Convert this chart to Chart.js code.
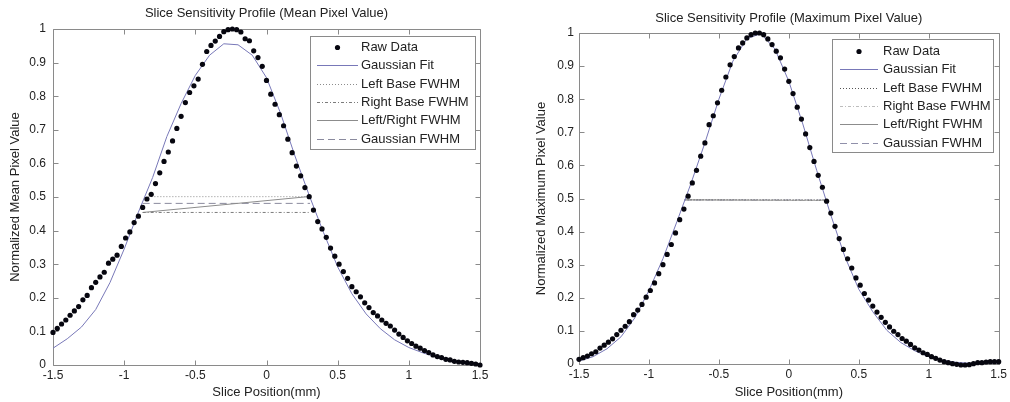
<!DOCTYPE html>
<html>
<head>
<meta charset="utf-8">
<script src="https://cdn.jsdelivr.net/npm/chart.js@4.4.1/dist/chart.umd.min.js"></script>
<style>
  html, body { margin: 0; padding: 0; background: #fff; }
  #wrap { position: relative; width: 1010px; height: 402px; }
  canvas { position: absolute; top: 0; }
</style>
</head>
<body>
<div id="wrap">
  <canvas id="meanChart" width="505" height="402" style="left:0px"></canvas>
  <canvas id="maxChart" width="505" height="402" style="left:505px"></canvas>
</div>
<script>
// slice positions of the raw samples (mm)
const slicePos = [-1.50,-1.47,-1.44,-1.41,-1.38,-1.35,-1.32,-1.29,-1.26,-1.23,-1.20,-1.17,-1.14,-1.11,-1.08,-1.05,-1.02,-0.99,-0.96,-0.93,
  -0.90,-0.87,-0.84,-0.81,-0.78,-0.75,-0.72,-0.69,-0.66,-0.63,-0.60,-0.57,-0.54,-0.51,-0.48,-0.45,-0.42,-0.39,-0.36,-0.33,
  -0.30,-0.27,-0.24,-0.21,-0.18,-0.15,-0.12,-0.09,-0.06,-0.03,0.00,0.03,0.06,0.09,0.12,0.15,0.18,0.21,0.24,0.27,
  0.30,0.33,0.36,0.39,0.42,0.45,0.48,0.51,0.54,0.57,0.60,0.63,0.66,0.69,0.72,0.75,0.78,0.81,0.84,0.87,
  0.90,0.93,0.96,0.99,1.02,1.05,1.08,1.11,1.14,1.17,1.20,1.23,1.26,1.29,1.32,1.35,1.38,1.41,1.44,1.47,1.50];

// mean pixel value profile
const meanRaw = [0.097,0.109,0.122,0.134,0.148,0.161,0.174,0.194,0.207,0.230,0.246,0.262,0.276,0.303,0.315,0.327,0.353,0.378,0.396,0.424,
  0.443,0.469,0.494,0.508,0.540,0.572,0.606,0.634,0.667,0.704,0.740,0.781,0.811,0.831,0.851,0.895,0.933,0.951,0.964,0.978,
  0.992,0.998,1.000,0.998,0.991,0.971,0.965,0.935,0.915,0.889,0.847,0.806,0.776,0.745,0.712,0.672,0.632,0.592,0.563,0.528,
  0.501,0.461,0.427,0.405,0.380,0.348,0.324,0.300,0.278,0.258,0.233,0.218,0.203,0.185,0.171,0.156,0.146,0.134,0.124,0.116,
  0.104,0.092,0.082,0.072,0.064,0.056,0.050,0.043,0.037,0.030,0.025,0.022,0.017,0.015,0.011,0.009,0.008,0.007,0.005,0.003,0.000];

// maximum pixel value profile
const maxRaw = [0.014,0.019,0.024,0.031,0.037,0.048,0.057,0.066,0.076,0.089,0.102,0.114,0.128,0.149,0.163,0.180,0.202,0.222,0.245,0.273,
  0.300,0.331,0.361,0.396,0.436,0.468,0.507,0.547,0.585,0.628,0.668,0.723,0.750,0.789,0.827,0.867,0.904,0.929,0.955,0.970,
  0.985,0.995,1.000,1.000,0.995,0.982,0.965,0.945,0.925,0.891,0.854,0.817,0.776,0.740,0.695,0.654,0.612,0.570,0.534,0.492,
  0.456,0.416,0.379,0.346,0.318,0.290,0.260,0.238,0.213,0.193,0.175,0.157,0.141,0.126,0.112,0.099,0.089,0.077,0.069,0.059,
  0.049,0.042,0.034,0.029,0.022,0.017,0.012,0.007,0.004,0.001,-0.001,-0.003,-0.003,-0.002,0.001,0.004,0.004,0.006,0.007,0.007,0.007];

// gaussian fit curves, read every 0.1 mm
const fitPos = [-1.5,-1.4,-1.3,-1.2,-1.1,-1.0,-0.9,-0.8,-0.7,-0.6,-0.5,-0.4,-0.3,-0.2,-0.1,0.0,
  0.1,0.2,0.3,0.4,0.5,0.6,0.7,0.8,0.9,1.0,1.1,1.2,1.3,1.4,1.5];
const meanFit = [0.050,0.078,0.113,0.165,0.245,0.345,0.455,0.558,0.680,0.778,0.862,0.922,0.956,0.953,0.922,0.855,
  0.748,0.622,0.505,0.395,0.292,0.212,0.152,0.108,0.075,0.052,0.036,0.023,0.014,0.008,0.004];
const maxFit = [0.009,0.022,0.046,0.082,0.140,0.222,0.318,0.430,0.545,0.668,0.800,0.915,0.983,0.998,0.952,0.854,
  0.725,0.584,0.450,0.325,0.226,0.158,0.102,0.065,0.040,0.022,0.011,0.005,0.002,0.001,0.000];

// FWHM segments [x, y]
const meanLeftBase = [[-0.83, 0.501], [0.29, 0.501]];
const meanRightBase = [[-0.87, 0.454], [0.306, 0.454]];
const meanLeftRight = [[-0.87, 0.454], [0.29, 0.501]];
const meanGaussFwhm = [[-0.87, 0.481], [0.306, 0.481]];
const maxLeftBase = [[-0.745, 0.496], [0.265, 0.496]];
const maxRightBase = [[-0.745, 0.494], [0.265, 0.494]];
const maxLeftRight = [[-0.745, 0.496], [0.265, 0.494]];
const maxGaussFwhm = [[-0.745, 0.495], [0.265, 0.495]];

const xTicks = [-1.5, -1, -0.5, 0, 0.5, 1, 1.5];
const xTickLabels = ['-1.5', '-1', '-0.5', '0', '0.5', '1', '1.5'];
const yTicks = [0, 0.1, 0.2, 0.3, 0.4, 0.5, 0.6, 0.7, 0.8, 0.9, 1];
const yTickLabels = ['0', '0.1', '0.2', '0.3', '0.4', '0.5', '0.6', '0.7', '0.8', '0.9', '1'];

Chart.defaults.font.family = '"Liberation Sans", Arial, sans-serif';
Chart.defaults.font.size = 12;
Chart.defaults.color = '#222';

const AXIS = '#8a8a8a';

const toXY = (xs, ys) => xs.map((x, i) => ({ x, y: ys[i] }));
const segXY = seg => seg.map(p => ({ x: p[0], y: p[1] }));

// matlab-ish box, inward ticks, title and boxed legend
const matlabAxes = {
  id: 'matlabAxes',
  beforeDatasetsDraw(chart, args, opts) {
    const { ctx, chartArea: a, scales: { x, y } } = chart;
    const L = Math.round(a.left) + 0.5, R = Math.round(a.right) + 0.5;
    const T = Math.round(a.top) + 0.5, B = Math.round(a.bottom) + 0.5;
    ctx.save();
    ctx.strokeStyle = AXIS;
    ctx.lineWidth = 1;
    ctx.beginPath();
    xTicks.forEach(v => {
      const px = Math.round(x.getPixelForValue(v)) + 0.5;
      ctx.moveTo(px, B); ctx.lineTo(px, B - 5);
      ctx.moveTo(px, T); ctx.lineTo(px, T + 5);
    });
    yTicks.forEach(v => {
      const py = Math.round(y.getPixelForValue(v)) + 0.5;
      ctx.moveTo(L, py); ctx.lineTo(L + 5, py);
      ctx.moveTo(R, py); ctx.lineTo(R - 5, py);
    });
    ctx.rect(L, T, R - L, B - T);
    ctx.stroke();
    ctx.restore();
  },
  afterDraw(chart, args, opts) {
    const { ctx, chartArea: a } = chart;
    ctx.save();
    ctx.fillStyle = '#222';
    ctx.font = '13px "Liberation Sans", Arial, sans-serif';
    ctx.textAlign = 'center';
    ctx.textBaseline = 'middle';
    ctx.fillText(opts.title, (a.left + a.right) / 2, opts.titleY);

    const lg = opts.legend;
    ctx.fillStyle = '#fff';
    ctx.fillRect(lg.x, lg.y, lg.w, lg.h);
    ctx.strokeStyle = AXIS;
    ctx.lineWidth = 1;
    ctx.strokeRect(lg.x + 0.5, lg.y + 0.5, lg.w, lg.h);
    ctx.font = '13px "Liberation Sans", Arial, sans-serif';
    ctx.textAlign = 'left';
    chart.data.datasets.forEach((ds, i) => {
      const cy = Math.round(lg.y + lg.first + i * lg.row) + 0.5;
      if (ds.showLine === false) {
        ctx.fillStyle = ds.pointBackgroundColor;
        ctx.beginPath();
        ctx.arc((lg.s0 + lg.s1) / 2, cy, 2.6, 0, Math.PI * 2);
        ctx.fill();
      } else {
        ctx.strokeStyle = ds.borderColor;
        ctx.setLineDash(ds.borderDash || []);
        ctx.beginPath();
        ctx.moveTo(lg.s0, cy);
        ctx.lineTo(lg.s1, cy);
        ctx.stroke();
        ctx.setLineDash([]);
      }
      ctx.fillStyle = '#222';
      ctx.fillText(ds.label, lg.tx, cy);
    });
    ctx.restore();
  }
};

function lineSet(label, data, color, dash) {
  return { label, data, showLine: true, borderColor: color, borderWidth: 1, borderDash: dash,
    pointRadius: 0, tension: 0 };
}

function buildChart(id, cfg) {
  return new Chart(document.getElementById(id), {
    type: 'scatter',
    data: {
      datasets: [
        { label: 'Raw Data', data: toXY(slicePos, cfg.raw), showLine: false, pointRadius: 2.6,
          pointBackgroundColor: '#06060f', pointBorderWidth: 0, clip: false },
        lineSet('Gaussian Fit', toXY(fitPos, cfg.fit), '#7878b8', []),
        lineSet('Left Base FWHM', segXY(cfg.leftBase), cfg.colors[0], [1, 2]),
        lineSet('Right Base FWHM', segXY(cfg.rightBase), cfg.colors[1], [3, 2, 1, 2]),
        lineSet('Left/Right FWHM', segXY(cfg.leftRight), cfg.colors[2], []),
        lineSet('Gaussian FWHM', segXY(cfg.gaussFwhm), cfg.colors[3], [7, 4])
      ]
    },
    options: {
      responsive: false,
      animation: false,
      layout: { padding: cfg.pad },
      plugins: {
        legend: { display: false },
        tooltip: { enabled: false },
        matlabAxes: cfg.deco
      },
      scales: {
        x: {
          type: 'linear', min: -1.5, max: 1.5,
          afterBuildTicks: s => { s.ticks = xTicks.map(v => ({ value: v })); },
          afterFit: s => { s.height = cfg.xh; },
          grid: { display: false, drawTicks: false },
          border: { display: false },
          ticks: { padding: 3, maxRotation: 0, autoSkip: false, callback: (v, i) => xTickLabels[i] },
          title: { display: true, text: 'Slice Position(mm)', font: { size: 13 }, padding: { top: 0, bottom: 2 } }
        },
        y: {
          type: 'linear', min: 0, max: 1,
          afterBuildTicks: s => { s.ticks = yTicks.map(v => ({ value: v })); },
          afterFit: s => { s.width = cfg.yw; },
          grid: { display: false, drawTicks: false },
          border: { display: false },
          ticks: { padding: cfg.ytp, autoSkip: false, callback: (v, i) => yTickLabels[i] },
          title: { display: true, text: cfg.ytitle, font: { size: 13 }, padding: { top: cfg.ytitlePad, bottom: 0 } }
        }
      }
    },
    plugins: [matlabAxes]
  });
}

buildChart('meanChart', {
  raw: meanRaw, fit: meanFit,
  leftBase: meanLeftBase, rightBase: meanRightBase, leftRight: meanLeftRight, gaussFwhm: meanGaussFwhm,
  colors: ['#8c8c8c', '#7c7c7c', '#8c8c8c', '#8a8a9e'],
  pad: { top: 29, right: 25, left: 0, bottom: 0 },
  xh: 37, yw: 53, ytp: 7, ytitlePad: 7.2,
  ytitle: 'Normalized Mean Pixel Value',
  deco: {
    title: 'Slice Sensitivity Profile (Mean Pixel Value)', titleY: 13.5,
    legend: { x: 310, y: 36, w: 165, h: 113, first: 11, row: 18.3, s0: 317, s1: 358, tx: 361 }
  }
});

buildChart('maxChart', {
  raw: maxRaw, fit: maxFit,
  leftBase: maxLeftBase, rightBase: maxRightBase, leftRight: maxLeftRight, gaussFwhm: maxGaussFwhm,
  colors: ['#555555', '#bdbdbd', '#8c8c8c', '#9090aa'],
  pad: { top: 33, right: 10, left: 22, bottom: 0 },
  xh: 38, yw: 52, ytp: 5, ytitlePad: 7,
  ytitle: 'Normalized Maximum Pixel Value',
  deco: {
    title: 'Slice Sensitivity Profile (Maximum Pixel Value)', titleY: 18.5,
    legend: { x: 327, y: 39, w: 161, h: 113, first: 12, row: 18.3, s0: 335, s1: 373, tx: 378 }
  }
});
</script>
</body>
</html>
